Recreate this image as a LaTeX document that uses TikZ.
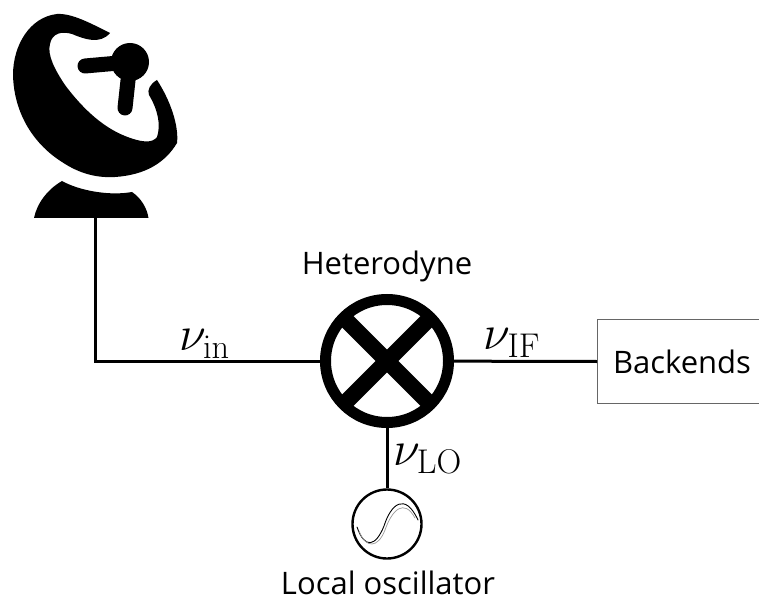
\documentclass[tikz,border=0pt]{standalone}
\usepackage{fix-cm}
\usepackage[no-math]{fontspec}
\setmainfont{Open Sans}
\usetikzlibrary{calc}
\tikzset{
  wire/.style={line width=3pt},
  lab/.style={inner sep=0pt,font=\fontsize{31}{36}\selectfont},
  sym/.style={inner sep=0pt,font=\fontsize{49}{56}\selectfont},
  mixer/.style={circle,draw,line width=11pt,minimum size=123pt,inner sep=0pt},
  osc/.style={circle,draw,line width=2.4pt,minimum size=69pt,inner sep=0pt},
  backend/.style={draw=black!60,line width=1pt,inner sep=0pt,minimum width=170pt,minimum height=84pt}
}
\begin{document}
\begin{tikzpicture}[x=1pt,y=-1pt]
\useasboundingbox (0,0) rectangle (759,601);
% dish
\fill (110,33) .. controls (92,24) and (72,13) .. (57,14)
  .. controls (30,17) and (13,45) .. (13,75)
  .. controls (14,115) and (35,145) .. (62,162)
  .. controls (80,174) and (97,178) .. (115,177)
  .. controls (145,175) and (165,163) .. (177,143)
  .. controls (179,125) and (170,100) .. (157,80)
  .. controls (150,84) and (147,90) .. (149,95)
  .. controls (158,110) and (161,125) .. (157,137)
  .. controls (152,144) and (140,142) .. (125,136)
  .. controls (100,126) and (80,105) .. (65,85)
  .. controls (55,70) and (47,55) .. (50,44)
  .. controls (52,33) and (62,31) .. (72,34)
  .. controls (84,39) and (100,45) .. (110,33) -- cycle;
\fill (130,62) circle[radius=19];
\draw[line width=15pt,line cap=round] (130,62) -- (85,66);
\draw[line width=15pt,line cap=round] (130,62) -- (125,108);
\fill (34,218) .. controls (37,203) and (48,189) .. (62,181)
  .. controls (80,191) and (110,196) .. (132,192)
  .. controls (141,198) and (147,208) .. (148.5,218) -- cycle;
\coordinate (dishfoot) at (95,218);
\coordinate (corner) at (95,361);
% mixer and oscillator
\node[mixer] (mix) at (387,361) {};
\draw[line width=16pt] ($(mix.center)+(-42,-42)$) -- ($(mix.center)+(42,42)$);
\draw[line width=16pt] ($(mix.center)+(-42,42)$) -- ($(mix.center)+(42,-42)$);
\node[osc] (lo) at (387,524) {};
\draw[line width=0.9pt,line cap=round] (357,527) .. controls (365,550) and (376,546) .. (384,526)
  .. controls (391,504) and (405,492) .. (418,520);
\draw[line width=0.7pt,line cap=round,black!40] (359,531) .. controls (366,549) and (378,548) .. (385,530)
  .. controls (392,510) and (404,498) .. (415,518);
\node[backend,anchor=west] (be) at (597,361.5) {};
\draw[wire] (dishfoot) -- (corner) -- (mix);
\draw[wire] (mix) -- (be.west);
\draw[wire] (mix) -- (lo);
% labels
\node[lab] (ht) at (387,266.5) {Heterodyne};
\node[lab] (lol) at (388,583) {Local oscillator};
\node[lab] at (682,362) {Backends};
\node[sym] at (204.5,344) {$\nu_{\mathrm{in}}$};
\node[sym] at (512,343) {$\nu_{\mathrm{IF}}$};
\node[sym] at (427.5,459) {$\nu_{\mathrm{LO}}$};
\end{tikzpicture}
\end{document}
